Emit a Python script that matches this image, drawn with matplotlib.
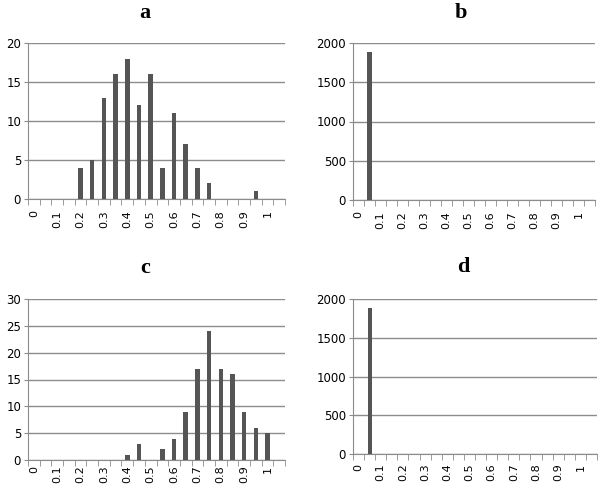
import matplotlib
matplotlib.use('Agg')
import matplotlib.pyplot as plt
import numpy as np

# categories 0, 0.05, ..., 1.05 (labels shown every other one)
bins = [round(0.05 * i, 2) for i in range(22)]
tick_labels = ['0', '0.1', '0.2', '0.3', '0.4', '0.5', '0.6', '0.7', '0.8', '0.9', '1']

counts_a = [0, 0, 0, 0, 4, 5, 13, 16, 18, 12, 16, 4, 11, 7, 4, 2, 0, 0, 0, 1, 0, 0]
counts_b = [0, 1880, 0, 0, 0, 0, 0, 0, 0, 0, 0, 0, 0, 0, 0, 0, 0, 0, 0, 0, 0, 0]
counts_c = [0, 0, 0, 0, 0, 0, 0, 0, 1, 3, 0, 2, 4, 9, 17, 24, 17, 16, 9, 6, 5, 0]
counts_d = [0, 1880, 0, 0, 0, 0, 0, 0, 0, 0, 0, 0, 0, 0, 0, 0, 0, 0, 0, 0, 0, 0]

# name, counts, ymax, ystep, axes box in pixels, title position, x label pad
panels = [
    ('a', counts_a, 20, 5, [28, 43, 285, 199], (145, 13), 8),
    ('b', counts_b, 2000, 500, [353, 43, 595, 200], (461, 13), 8),
    ('c', counts_c, 30, 5, [28, 299, 285, 460], (145, 268), 4),
    ('d', counts_d, 2000, 500, [353, 299, 597, 454], (463, 267), 7),
]

W, H = 600, 488
fig = plt.figure(figsize=(6, 4.88), dpi=100)
bar_color = '#555555'
grid_color = '#8c8c8c'

for name, counts, ymax, ystep, box, tpos, xpad in panels:
    x0, y0, x1, y1 = box
    ax = fig.add_axes([x0 / W, (H - y1) / H, (x1 - x0) / W, (y1 - y0) / H])
    x = np.arange(len(bins))
    ax.bar(x, counts, width=0.38, color=bar_color, zorder=3)
    ax.set_xlim(-0.5, len(bins) - 0.5)
    ax.set_ylim(0, ymax)
    ax.set_yticks(np.arange(0, ymax + ystep, ystep))
    ax.yaxis.grid(True, color=grid_color, linewidth=1)
    ax.set_axisbelow(True)
    ax.set_xticks(x[::2])
    ax.set_xticklabels(tick_labels, rotation=90, fontsize=8)
    ax.set_xticks(np.arange(-0.5, len(bins)), minor=True)
    ax.tick_params(axis='x', which='major', length=0, pad=xpad)
    ax.tick_params(axis='x', which='minor', length=4, color=grid_color, direction='out')
    ax.tick_params(axis='y', length=3, color=grid_color, labelsize=8.5, pad=2)
    for s in ['top', 'right']:
        ax.spines[s].set_visible(False)
    ax.spines['left'].set_color(grid_color)
    ax.spines['bottom'].set_color(grid_color)
    fig.text(tpos[0] / W, 1 - tpos[1] / H, name, ha='center', va='center',
             fontsize=16, fontweight='bold', family='Liberation Serif')

fig.savefig('out.png', dpi=100)
